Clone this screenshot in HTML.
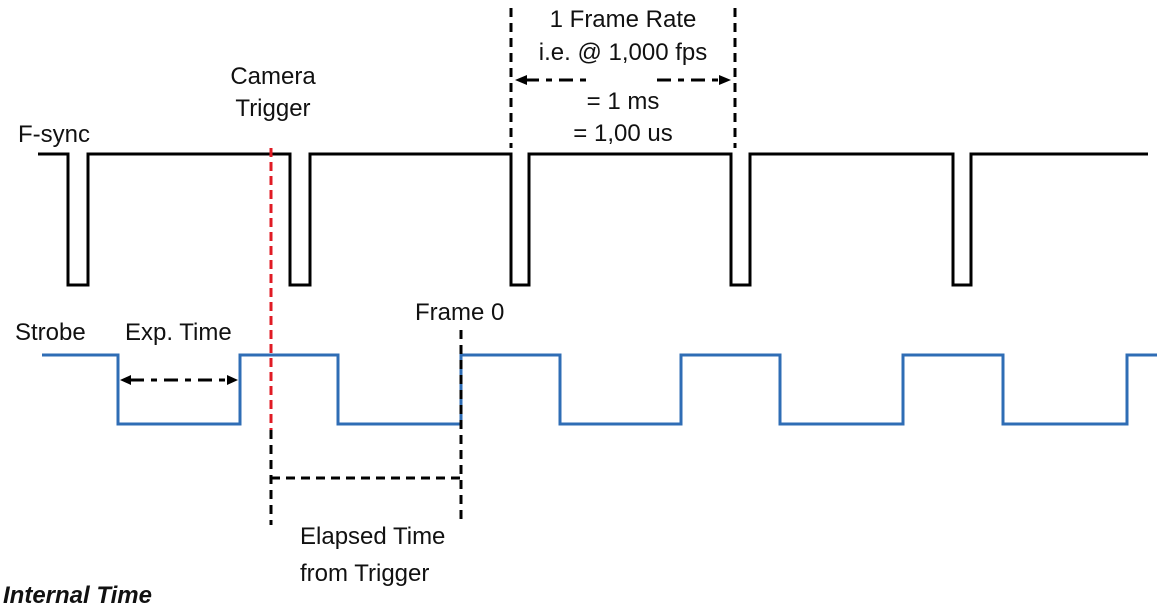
<!DOCTYPE html>
<html><head><style>
body{margin:0;background:#fff;}
svg{display:block;}
text{font-family:"Liberation Sans",sans-serif;font-size:24px;fill:#111;}
</style></head><body>
<svg width="1161" height="613" viewBox="0 0 1161 613">
<g fill="none" stroke="#000" stroke-width="3">
<polyline points="38,154 68,154 68,285 88,285 88,154 290,154 290,285 310,285 310,154 511,154 511,285 529,285 529,154 731,154 731,285 750,285 750,154 953,154 953,285 971,285 971,154 1148,154"/>
</g>
<polyline fill="none" stroke="#2f6db5" stroke-width="3" points="42,355 118,355 118,424 240,424 240,355 338,355 338,424 461,424 461,355 560,355 560,424 681,424 681,355 780,355 780,424 903,424 903,355 1003,355 1003,424 1127,424 1127,355 1157,355"/>
<g stroke="#000" stroke-width="3" fill="none" stroke-dasharray="9,6">
<line x1="511" y1="8" x2="511" y2="148"/>
<line x1="735" y1="8" x2="735" y2="148"/>
<line x1="461" y1="330" x2="461" y2="525"/>
<line x1="271" y1="430" x2="271" y2="525"/>
<line x1="271" y1="478" x2="461" y2="478"/>
</g>
<line x1="271" y1="148" x2="271" y2="430" stroke="#e01b24" stroke-width="3" stroke-dasharray="9,5"/>
<g stroke="#000" stroke-width="3" stroke-dasharray="14,7,6,7">
<line x1="525" y1="80" x2="590" y2="80"/>
<line x1="657" y1="80" x2="722" y2="80"/>
<line x1="130" y1="380" x2="230" y2="380"/>
</g>
<g fill="#000">
<polygon points="515,80 527,75 527,85"/>
<polygon points="731,80 719,75 719,85"/>
<polygon points="120,380 131,375 131,385"/>
<polygon points="238,380 227,375 227,385"/>
</g>
<text x="623" y="27" text-anchor="middle">1 Frame Rate</text>
<text x="623" y="60" text-anchor="middle">i.e. @ 1,000 fps</text>
<text x="623" y="109" text-anchor="middle">= 1 ms</text>
<text x="623" y="141" text-anchor="middle">= 1,00 us</text>
<text x="273" y="84" text-anchor="middle">Camera</text>
<text x="273" y="116" text-anchor="middle">Trigger</text>
<text x="18" y="142">F-sync</text>
<text x="15" y="340">Strobe</text>
<text x="125" y="340">Exp. Time</text>
<text x="415" y="320">Frame 0</text>
<text x="300" y="544">Elapsed Time</text>
<text x="300" y="581">from Trigger</text>
<text x="3" y="603" style="font-style:italic;font-weight:bold;font-size:24px">Internal Time</text>
</svg>
</body></html>
